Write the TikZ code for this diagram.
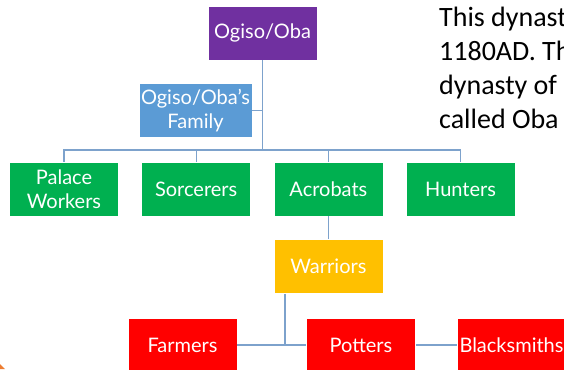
\documentclass[tikz,border=0pt]{standalone}
\usepackage{fontspec}
\setmainfont{Carlito}
\newfontfamily\boxfont{Lato}
\usetikzlibrary{positioning}

\definecolor{obapurple}{RGB}{112,48,160}
\definecolor{familyblue}{RGB}{91,155,213}
\definecolor{groupgreen}{RGB}{0,176,80}
\definecolor{warriorgold}{RGB}{255,192,0}
\definecolor{craftred}{RGB}{255,0,0}
\definecolor{linkblue}{RGB}{125,162,204}
\definecolor{cornerorange}{RGB}{237,125,49}

\begin{document}
\begin{tikzpicture}[x=1pt, y=1pt, node distance=132.2pt, auto]
\useasboundingbox (0,0) rectangle (564,-369);
\clip (0,0) rectangle (564,-369);

% Define styles
\tikzstyle{box} = [rectangle, draw=white, line width=0.5pt, text=white, font=\boxfont\fontsize{20}{24}\selectfont, align=center, minimum width=109pt, minimum height=54pt, inner sep=2pt]
\tikzstyle{ruler} = [box, fill=obapurple]
\tikzstyle{kin} = [box, fill=familyblue, minimum width=111pt]
\tikzstyle{group} = [box, fill=groupgreen]
\tikzstyle{guard} = [box, fill=warriorgold]
\tikzstyle{craft} = [box, fill=craftred]
\tikzstyle{desc} = [inner sep=0pt, align=left, font=\fontsize{28}{34}\selectfont]
\tikzstyle{line} = [draw=linkblue, line width=1.2pt]

% Nodes
\node [ruler] (oba) at (262.5,-33) {Ogiso/Oba};
\node [kin] (family) at (195.5,-110.5) {Ogiso/Oba’s\\Family};

\node [group] (palace) at (64,-189) {Palace\\Workers};
\node [group, right of=palace] (sorcerers) {Sorcerers};
\node [group, right of=sorcerers] (acrobats) {Acrobats};
\node [group, right of=acrobats] (hunters) {Hunters};

\node [guard, below of=acrobats, node distance=77.5pt] (warriors) {Warriors};

\node [craft] (farmers) at (182.5,-345) {Farmers};
\node [craft, right of=farmers, node distance=178.5pt] (potters) {Potters};
\node [craft, right of=potters, node distance=150.5pt] (blacksmiths) {Blacksmiths};

% Text (cut at the right edge, as shown)
\node [desc, anchor=base west] (dynasty) at (439,-128) {This dynast\\1180AD. Th\\dynasty of\\called Oba};

% Connectors
\coordinate (bus) at (262.5,-150);
\coordinate (join) at (285,-345);
\draw [line] (oba) -- (bus);
\draw [line] (family.east) -- (family.east -| oba);
\draw [line] (palace.north) |- (bus) -| (hunters.north);
\draw [line] (sorcerers.north) -- (sorcerers.north |- bus);
\draw [line] (acrobats.north) -- (acrobats.north |- bus);
\draw [line] (acrobats) -- (warriors);
\draw [line] (warriors.south -| join) -- (join);
\draw [line] (farmers) -- (potters);
\draw [line] (potters) -- (blacksmiths);

\fill [cornerorange] (0,-364) -- (5,-369) -- (0,-369) -- cycle;

\end{tikzpicture}
\end{document}
